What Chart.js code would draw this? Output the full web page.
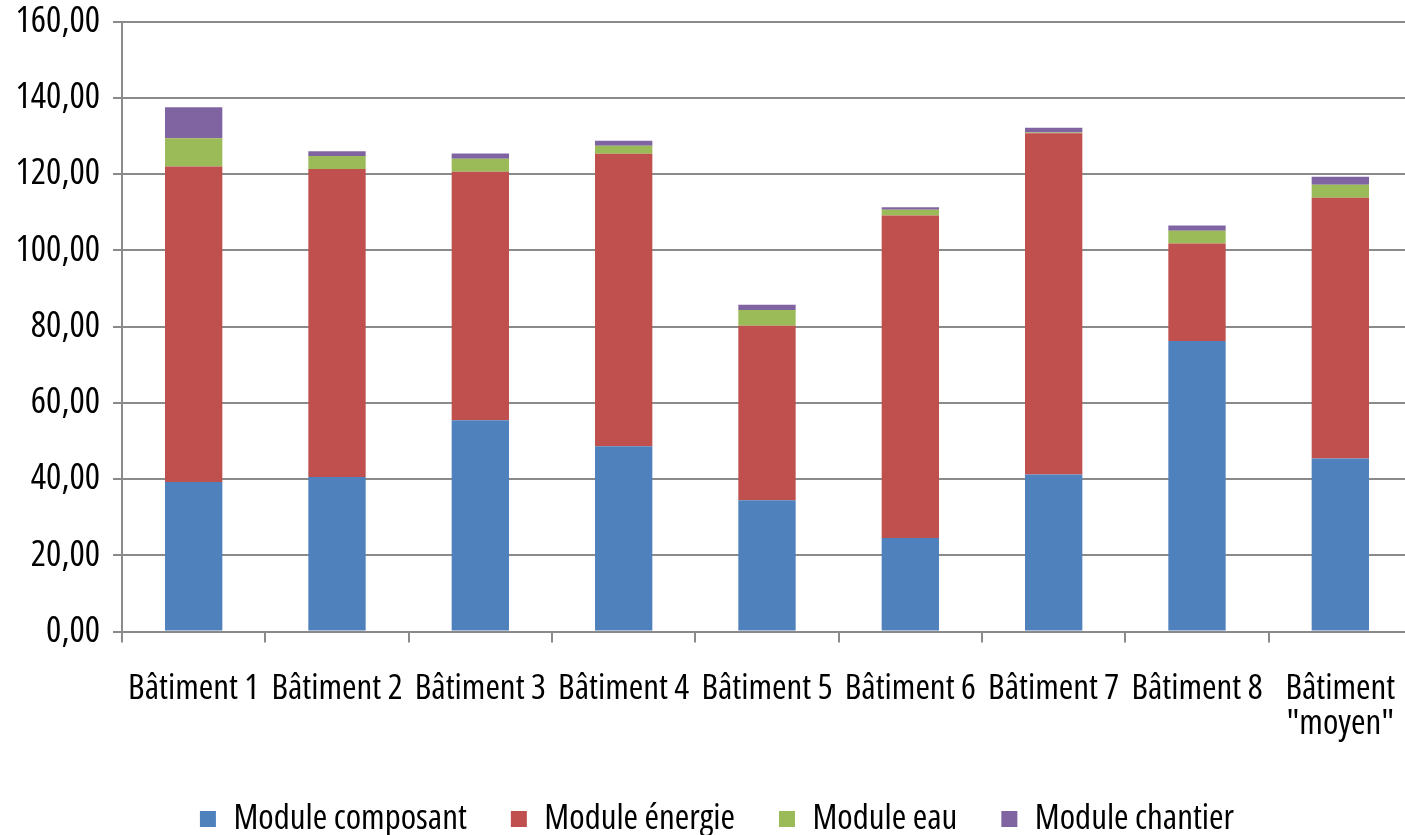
<!DOCTYPE html>
<html>
<head>
<meta charset="utf-8">
<script src="https://cdn.jsdelivr.net/npm/chart.js@4"></script>
<style>
  html, body { margin: 0; padding: 0; background: #fff; overflow: hidden; }
  #wrap { width: 1412px; height: 835px; }
</style>
</head>
<body>
<div id="wrap"><canvas id="c" width="1412" height="835"></canvas></div>
<script>
// Categories (buildings)
const categories = [
  'Bâtiment 1', 'Bâtiment 2', 'Bâtiment 3', 'Bâtiment 4',
  'Bâtiment 5', 'Bâtiment 6', 'Bâtiment 7', 'Bâtiment 8',
  ['Bâtiment', '"moyen"']
];

// Stacked module values per building
const moduleComposant = [39.2, 40.5, 55.4, 48.6, 34.4, 24.5, 41.2, 76.2, 45.4];
const moduleEnergie   = [82.8, 80.8, 65.2, 76.7, 45.8, 84.6, 89.5, 25.6, 68.4];
const moduleEau       = [7.4, 3.4, 3.4, 2.1, 4.1, 1.5, 0.2, 3.3, 3.4];
const moduleChantier  = [8.1, 1.3, 1.4, 1.3, 1.4, 0.7, 1.2, 1.4, 2.1];

const seriesNames = ['Module composant', 'Module énergie', 'Module eau', 'Module chantier'];

// Y axis ticks
const yMin = 0, yMax = 160, yStep = 20;

// Narrow humanist face: Open Sans at condensed width
const FONT = "'Open Sans', sans-serif";
const STRETCH = 'normal condensed';
const GRID = '#8a8a8a';

const mk = (label, data, color) => ({
  label, data, backgroundColor: color, borderWidth: 0,
  categoryPercentage: 0.8, barPercentage: 0.5
});

// Let the y axis box reach the left canvas edge so its labels are not clipped,
// while the left layout padding still shifts the centred legend.
const widenYAxis = {
  id: 'widenYAxis',
  afterLayout(chart) {
    const y = chart.scales.y;
    y.left = 0;
    y.width = y.right;
  }
};

new Chart(document.getElementById('c'), {
  type: 'bar',
  data: {
    labels: categories,
    datasets: [
      mk(seriesNames[0], moduleComposant, '#4F81BD'),
      mk(seriesNames[1], moduleEnergie, '#C0504D'),
      mk(seriesNames[2], moduleEau, '#9BBB59'),
      mk(seriesNames[3], moduleChantier, '#8064A2')
    ]
  },
  plugins: [widenYAxis],
  options: {
    responsive: false,
    animation: false,
    devicePixelRatio: 1,
    layout: { padding: { top: 21.5, right: 0, bottom: -11.5, left: 22 } },
    plugins: {
      tooltip: { enabled: false },
      legend: {
        position: 'bottom',
        labels: {
          color: '#000',
          font: { family: FONT, size: 35, weight: STRETCH },
          boxWidth: 16, boxHeight: 16,
          padding: 44
        }
      }
    },
    scales: {
      x: {
        stacked: true,
        offset: true,
        afterFit: (s) => { s.height = 126; s.paddingLeft = 0; s.paddingRight = 0; },
        grid: {
          offset: true, drawOnChartArea: false, drawTicks: true,
          tickLength: 11, color: GRID, lineWidth: 2
        },
        border: { display: true, color: GRID, width: 2 },
        ticks: {
          color: '#000', padding: 29.5, maxRotation: 0, autoSkip: false,
          font: { family: FONT, size: 35, weight: STRETCH, lineHeight: 1.0 }
        }
      },
      y: {
        stacked: true,
        min: yMin, max: yMax,
        afterFit: (s) => { s.width = 100; s.paddingTop = 0; s.paddingBottom = 0; },
        grid: { color: GRID, lineWidth: 2, tickLength: 9, drawTicks: true },
        border: { display: true, color: GRID, width: 2 },
        ticks: {
          stepSize: yStep, color: '#000', padding: 13,
          font: { family: FONT, size: 36, weight: STRETCH },
          callback: (v) => Number(v).toFixed(2).replace('.', ',')
        }
      }
    }
  }
});
</script>
</body>
</html>
